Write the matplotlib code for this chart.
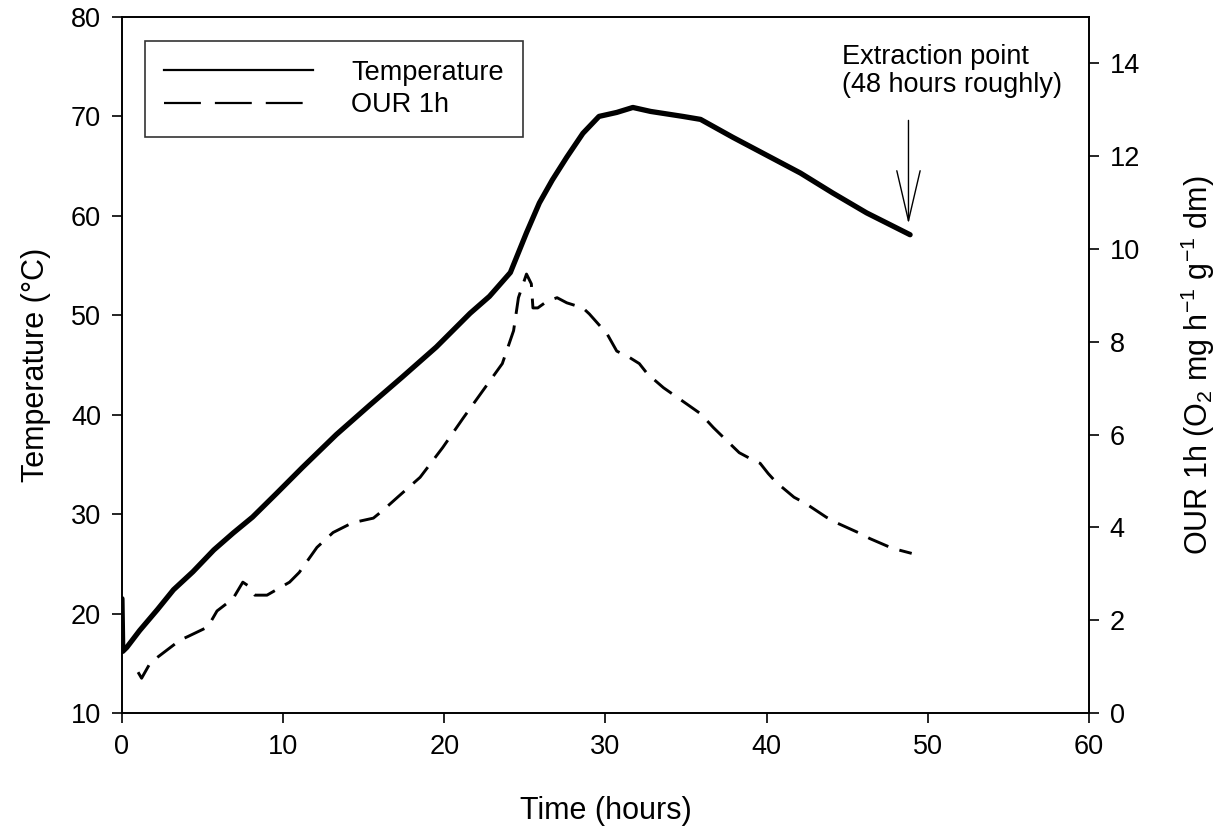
import matplotlib

matplotlib.use("Agg")
import matplotlib.pyplot as plt
from matplotlib.lines import Line2D

plt.rcParams["font.family"] = ["Liberation Sans", "DejaVu Sans"]
plt.rcParams["mathtext.fontset"] = "custom"
plt.rcParams["mathtext.rm"] = "Liberation Sans"
plt.rcParams["mathtext.it"] = "Liberation Sans:italic"
plt.rcParams["mathtext.bf"] = "Liberation Sans:bold"

# temperature readings (hours, degC)
temp_t = [0.0, 0.05, 0.3, 1.1, 2.2, 3.2, 4.4, 5.7, 6.9, 8.1, 9.6, 11.2, 13.3,
          15.4, 17.4, 19.5, 21.6, 22.8, 24.1, 25.1, 25.9, 26.7, 27.6, 28.6,
          29.6, 30.7, 31.7, 32.8, 34.8, 35.9, 37.9, 40.0, 42.1, 44.1, 46.2,
          48.9]
temp_c = [21.5, 16.2, 16.6, 18.3, 20.4, 22.4, 24.2, 26.4, 28.1, 29.7, 32.1,
          34.7, 38.0, 41.0, 43.8, 46.8, 50.2, 51.9, 54.3, 58.3, 61.3, 63.6,
          65.9, 68.3, 70.0, 70.4, 70.9, 70.5, 70.0, 69.7, 67.9, 66.1, 64.3,
          62.3, 60.3, 58.1]

# oxygen uptake rate readings (hours, O2 mg h-1 g-1 dm)
our_t = [1.0, 1.22, 1.74, 2.2, 3.6, 4.1, 5.3, 5.5, 5.9, 6.5, 6.9, 7.5, 7.8,
         8.25, 9.0, 10.4, 11.0, 12.1, 13.1, 14.3, 15.6, 16.2, 17.1, 18.5,
         19.9, 21.2, 22.4, 23.6, 24.3, 24.6, 25.1, 25.4, 25.5, 25.8, 26.4,
         27.0, 27.6, 28.6, 29.0, 30.1, 30.7, 31.5, 32.1, 32.6, 33.6, 35.0,
         35.9, 36.7, 37.2, 38.3, 39.0, 39.6, 40.1, 40.6, 41.7, 42.4, 43.7,
         44.4, 45.8, 46.4, 47.8, 49.0]
our_v = [0.88, 0.75, 1.07, 1.2, 1.57, 1.65, 1.85, 1.96, 2.2, 2.36, 2.47, 2.82,
         2.75, 2.54, 2.54, 2.82, 3.03, 3.57, 3.89, 4.1, 4.2, 4.37, 4.65, 5.08,
         5.72, 6.37, 6.95, 7.53, 8.24, 8.95, 9.46, 9.25, 8.73, 8.73, 8.88,
         8.95, 8.84, 8.73, 8.6, 8.17, 7.8, 7.66, 7.53, 7.31, 7.01, 6.67, 6.45,
         6.15, 5.98, 5.61, 5.48, 5.38, 5.16, 4.97, 4.65, 4.52, 4.22, 4.09,
         3.87, 3.76, 3.55, 3.44]

FS = 19.5

fig = plt.figure(figsize=(12.28, 8.36), dpi=100)
ax = fig.add_axes([0.0993, 0.1471, 0.7875, 0.8326])
ax2 = ax.twinx()

ax.plot(temp_t, temp_c, color="black", lw=3.8, solid_joinstyle="round",
        solid_capstyle="round", zorder=3)
ax2.plot(our_t, our_v, color="black", lw=2.1, ls=(0, (7.5, 4)), zorder=3)

ax.set_xlim(0, 60)
ax.set_ylim(10, 80)
ax2.set_ylim(0, 15)
ax.set_xticks(range(0, 61, 10))
ax.set_yticks(range(10, 81, 10))
ax2.set_yticks(range(0, 15, 2))

for a in (ax, ax2):
    for s in a.spines.values():
        s.set_linewidth(1.2)
ax.tick_params(axis="both", direction="out", length=7, width=1.2,
               labelsize=FS, pad=8)
ax2.tick_params(axis="y", direction="out", length=7, width=1.2,
                labelsize=FS, pad=8)

ax.set_xlabel("Time (hours)", fontsize=22, labelpad=26)
ax.set_ylabel("Temperature (°C)", fontsize=22, labelpad=14)
ax2.set_ylabel(r"OUR 1h (O$_2$ mg h$^{-1}$ g$^{-1}$ dm)", fontsize=22,
               labelpad=28)

# legend proxies: the original legend uses longer dashes than the plot line
handles = [Line2D([], [], color="black", lw=1.6),
           Line2D([], [], color="black", lw=1.6, ls=(0, (16.6, 6.3)))]
leg = ax.legend(handles, ["Temperature", "OUR 1h"], loc="upper left",
                bbox_to_anchor=(0.024, 0.966), fontsize=FS, frameon=True,
                fancybox=False, handlelength=5.5, handletextpad=1.4,
                labelspacing=0.25, borderpad=0.7, borderaxespad=0)
leg.get_frame().set_edgecolor("black")
leg.get_frame().set_linewidth(1.2)

ax.annotate("", xy=(48.8, 59.2), xytext=(48.8, 69.6),
            arrowprops=dict(arrowstyle="->,head_length=1.8,head_width=0.42",
                            color="black", lw=1.0, mutation_scale=20,
                            shrinkA=0, shrinkB=0))
ax.text(44.7, 77.3, "Extraction point\n(48 hours roughly)", fontsize=FS,
        ha="left", va="top", linespacing=1.1)

fig.savefig("out.png", dpi=100, facecolor="white")
